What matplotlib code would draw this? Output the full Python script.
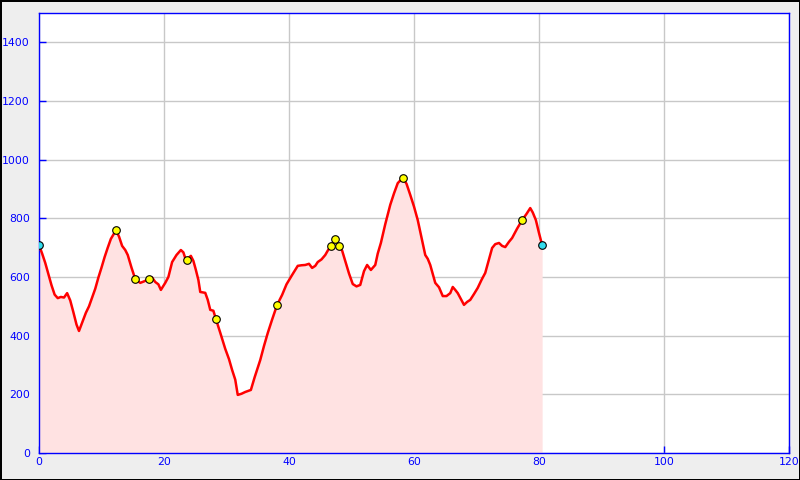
import matplotlib
matplotlib.use("Agg")
import matplotlib.pyplot as plt

# ------------------- Data -------------------
dist_km = [0.0, 0.5, 1.0, 1.5, 2.0, 2.5, 3.0, 3.5, 4.0, 4.5, 5.0, 5.5, 6.0, 6.4, 7.0,
           7.5, 8.0, 8.5, 9.0, 9.5, 10.0, 10.5, 11.0, 11.5, 12.0, 12.3, 12.8, 13.3,
           13.8, 14.2, 14.8, 15.4, 16.2, 16.8, 17.6, 18.1, 18.6, 19.1, 19.5, 20.2,
           20.7, 21.3, 22.0, 22.7, 23.1, 23.5, 24.3, 24.7, 25.1, 25.5, 25.8, 26.6,
           27.0, 27.4, 27.9, 28.3, 29.0, 29.8, 30.4, 30.9, 31.4, 31.8, 32.4, 33.0,
           33.9, 34.5, 35.4, 36.0, 36.6, 37.3, 38.1, 38.9, 39.6, 40.5, 41.4, 42.0,
           42.6, 43.2, 43.7, 44.2, 44.6, 45.2, 45.8, 46.2, 46.7, 47.4, 48.0, 48.5,
           49.1, 49.6, 50.2, 50.8, 51.4, 52.0, 52.5, 53.1, 53.8, 54.2, 54.7, 55.4,
           56.2, 56.8, 57.4, 58.2, 58.8, 59.4, 60.0, 60.6, 61.2, 61.8, 62.2, 62.6,
           63.0, 63.4, 64.0, 64.6, 65.2, 65.8, 66.2, 66.6, 67.0, 67.5, 68.0, 68.5,
           69.0, 69.6, 70.2, 70.8, 71.4, 72.0, 72.5, 73.0, 73.6, 74.1, 74.6, 75.2,
           75.7, 76.5, 77.3, 78.0, 78.6, 79.0, 79.5, 80.0, 80.5]
elev_m = [709, 680, 648, 610, 572, 540, 528, 532, 530, 545, 520, 480, 438, 416, 450,
          478, 500, 530, 560, 598, 632, 668, 700, 730, 748, 760, 738, 706,
          692, 675, 632, 593, 580, 585, 593, 598, 583, 575, 556, 580,
          600, 651, 675, 692, 684, 658, 672, 655, 624, 590, 549, 546,
          522, 488, 485, 457, 410, 355, 320, 283, 250, 198, 202, 208,
          215, 258, 317, 365, 409, 455, 505, 539, 575, 607, 638, 640,
          641, 645, 631, 638, 651, 660, 675, 690, 706, 730, 706, 690,
          648, 612, 576, 568, 573, 620, 641, 624, 641, 680, 716, 780,
          846, 885, 920, 938, 918, 880, 840, 794, 735, 675, 662, 641,
          610, 580, 565, 535, 535, 545, 566, 556, 545, 525, 505, 515,
          522, 542, 563, 590, 614, 660, 699, 712, 716, 706, 702, 720,
          733, 765, 794, 815, 835, 820, 794, 750, 709]

# waypoints
wp_km = [12.3, 15.4, 17.6, 23.7, 28.3, 38.1, 46.7, 47.4, 48.0, 58.2, 77.3]
wp_m = [760, 593, 593, 658, 457, 505, 706, 730, 706, 938, 794]
ends_km = [0.0, 80.5]
ends_m = [709, 709]

x_ticks = [0, 20, 40, 60, 80, 100, 120]
y_ticks = [0, 200, 400, 600, 800, 1000, 1200, 1400]

# ------------------- Chart -------------------
fig = plt.figure(figsize=(8, 4.8), dpi=100)
fig.patch.set_facecolor("#eeeeee")
fig.patch.set_edgecolor("black")
fig.patch.set_linewidth(2)

ax = fig.add_axes([39 / 800, 27 / 480, 750 / 800, 440 / 480])
ax.set_facecolor("white")

ax.fill_between(dist_km, elev_m, 0, color="#ffe2e2", linewidth=0, zorder=1)
ax.plot(dist_km, elev_m, color="red", linewidth=1.8, zorder=3)
ax.scatter(wp_km, wp_m, s=30, color="yellow", edgecolor="black", linewidth=0.8, zorder=4)
ax.scatter(ends_km, ends_m, s=30, color="#33ddee", edgecolor="black", linewidth=0.8, zorder=4)

ax.set_xlim(0, 120)
ax.set_ylim(0, 1500)
ax.set_xticks(x_ticks)
ax.set_yticks(y_ticks)
ax.grid(True, color="#c8c8c8", linewidth=1, zorder=0)
ax.set_axisbelow(True)

for s in ax.spines.values():
    s.set_color("blue")
    s.set_linewidth(1)
ax.tick_params(axis="both", direction="in", color="blue", labelcolor="blue",
               labelsize=7.8, length=5, width=1)
ax.tick_params(axis="x", pad=3)
ax.tick_params(axis="y", pad=6.5)

fig.savefig("out.png", dpi=100, facecolor=fig.get_facecolor(), edgecolor=fig.get_edgecolor())
